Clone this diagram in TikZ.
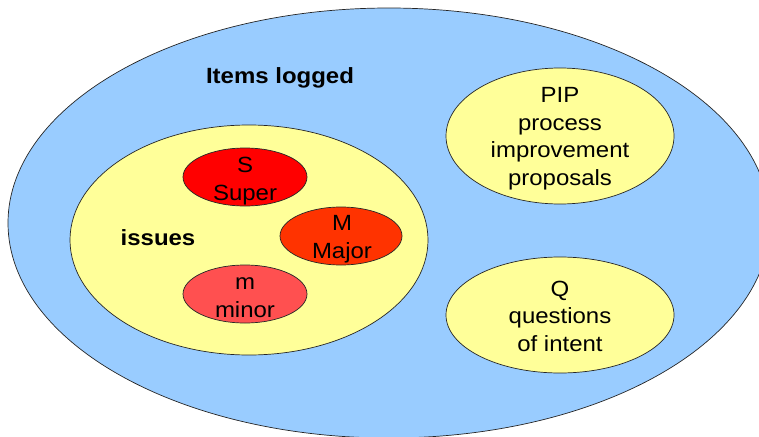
\documentclass[tikz,border=0pt]{standalone}
\usepackage{fontspec}
\setmainfont[FakeStretch=1.09]{Liberation Sans}
\usetikzlibrary{shapes.geometric}
\definecolor{skyfill}{HTML}{99CCFF}
\definecolor{paleyellow}{HTML}{FFFF99}
\definecolor{superred}{HTML}{FF0000}
\definecolor{majorred}{HTML}{FF3300}
\definecolor{minorred}{HTML}{FF5050}
\begin{document}
\begin{tikzpicture}[x=1pt,y=-1pt,
  blob/.style={ellipse, draw=black!85, line width=0.7pt, inner sep=0pt},
  lbl/.style={font=\fontsize{22}{27.6}\selectfont, align=center, anchor=base, inner sep=0pt},
  head/.style={font=\fontsize{22}{27.6}\selectfont\bfseries, anchor=base, inner sep=0pt}]
\useasboundingbox (0,0) rectangle (759,436);
\clip (0,0) rectangle (759,436);
% outer set: everything that gets logged
\node[blob, fill=skyfill, minimum width=762pt, minimum height=430pt] (logged) at (389,223) {};
\node[head] (loggedtxt) at (280,83) {Items logged};
% issues and their severities
\node[blob, fill=paleyellow, minimum width=358pt, minimum height=230pt] (issues) at (249,240) {};
\node[head] (issuestxt) at (158,245) {issues};
\node[blob, fill=superred, minimum width=124pt, minimum height=58pt] (super) at (245,177) {};
\node[lbl] (supertxt) at (245,200) {S\\Super};
\node[blob, fill=majorred, minimum width=122pt, minimum height=58pt] (major) at (341,236) {};
\node[lbl] (majortxt) at (342,258) {M\\Major};
\node[blob, fill=minorred, minimum width=124pt, minimum height=58pt] (minor) at (245,294) {};
\node[lbl] (minortxt) at (245,317) {m\\minor};
% process improvement proposals
\node[blob, fill=paleyellow, minimum width=228pt, minimum height=136pt] (pip) at (560,136) {};
\node[lbl] (piptxt) at (560,185.5) {PIP\\process\\improvement\\proposals};
% questions of intent
\node[blob, fill=paleyellow, minimum width=228pt, minimum height=116pt] (q) at (560,315) {};
\node[lbl] (qtxt) at (560,351.5) {Q\\questions\\of intent};
\end{tikzpicture}
\end{document}
